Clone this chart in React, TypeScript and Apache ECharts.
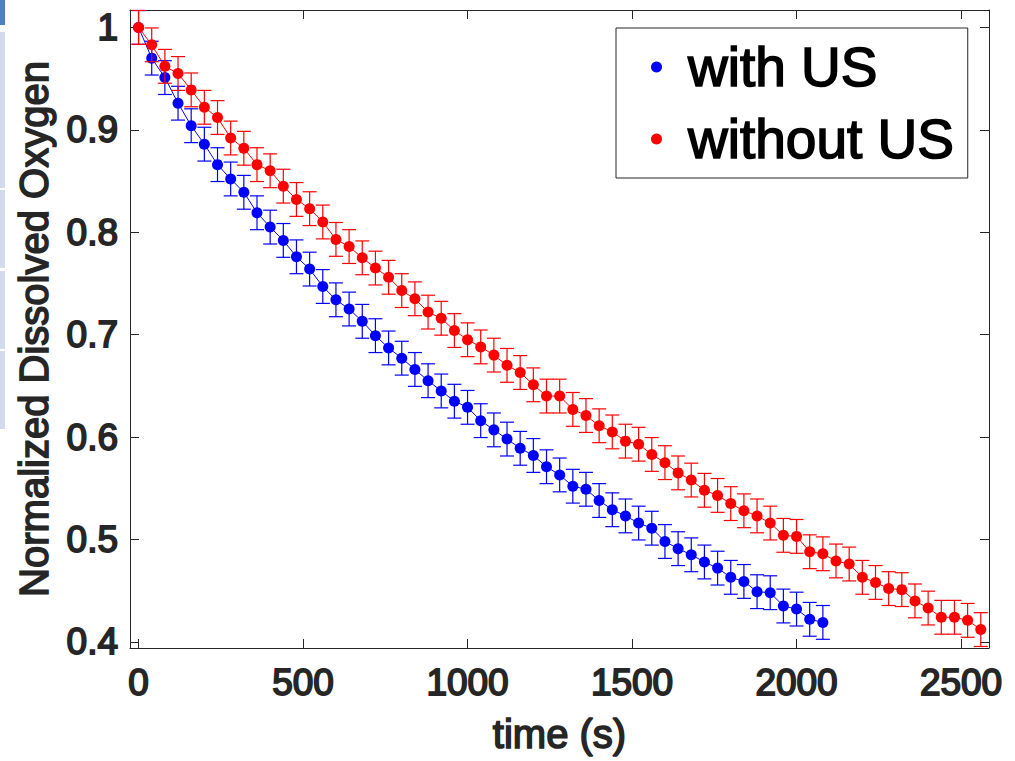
import React, { useEffect, useRef } from "react";
import * as echarts from "echarts";

// time (s), sampled every 40 s
const timeS = [
  0, 40, 80, 120, 160, 200, 240, 280, 320, 360, 400, 440, 480, 520, 560, 600,
  640, 680, 720, 760, 800, 840, 880, 920, 960, 1000, 1040, 1080, 1120, 1160, 1200,
  1240, 1280, 1320, 1360, 1400, 1440, 1480, 1520, 1560, 1600, 1640, 1680, 1720, 1760,
  1800, 1840, 1880, 1920, 1960, 2000, 2040, 2080, 2120, 2160, 2200, 2240, 2280, 2320,
  2360, 2400, 2440, 2480, 2520, 2560,
];

const withUS = [
  1.0, 0.97, 0.951, 0.926, 0.904, 0.886, 0.866, 0.852, 0.839, 0.819, 0.805, 0.792,
  0.776, 0.764, 0.747, 0.734, 0.725, 0.713, 0.699, 0.687, 0.677, 0.666, 0.655, 0.645,
  0.635, 0.629, 0.616, 0.607, 0.598, 0.589, 0.582, 0.571, 0.563, 0.552, 0.549, 0.538,
  0.529, 0.523, 0.516, 0.511, 0.498, 0.491, 0.485, 0.478, 0.472, 0.463, 0.459, 0.449,
  0.448, 0.435, 0.432, 0.422, 0.419,
];

const withoutUS = [
  1.0, 0.983, 0.962, 0.955, 0.939, 0.922, 0.912, 0.892, 0.882, 0.866, 0.86, 0.845,
  0.832, 0.823, 0.81, 0.793, 0.786, 0.775, 0.765, 0.756, 0.743, 0.735, 0.722, 0.716,
  0.704, 0.695, 0.688, 0.68, 0.67, 0.663, 0.651, 0.64, 0.64, 0.627, 0.621, 0.611,
  0.605, 0.596, 0.593, 0.583, 0.575, 0.565, 0.558, 0.548, 0.543, 0.535, 0.528, 0.523,
  0.516, 0.504, 0.503, 0.488, 0.486, 0.479, 0.476, 0.463, 0.458, 0.452, 0.451, 0.44,
  0.433, 0.424, 0.424, 0.421, 0.412,
];

const withUSErr = 0.0165;
const withoutUSErr = 0.0165;

const seriesNames = ["with US", "without US"];
const seriesColors = ["#0000ff", "#ff0000"];
const xTicks = [0, 500, 1000, 1500, 2000, 2500];
const yTicks = [0.4, 0.5, 0.6, 0.7, 0.8, 0.9, 1];

const FONT = "'Liberation Sans', Arial, Helvetica, sans-serif";
const AX = "#262626";

function errRender(color: string) {
  return (params: any, api: any) => {
    const x = api.value(0);
    const y = api.value(1);
    const e = api.value(2);
    const top = api.coord([x, y + e]);
    const bot = api.coord([x, y - e]);
    const cs = params.coordSys;
    const minY = cs.y;
    const maxY = cs.y + cs.height;
    const clamp = (v: number) => Math.max(minY, Math.min(maxY, v));
    const t = clamp(top[1]);
    const b = clamp(bot[1]);
    const cx = top[0];
    const hw = 7;
    const style = { stroke: color, lineWidth: 1.2 };
    const children: any[] = [
      { type: "line", shape: { x1: cx, y1: t, x2: cx, y2: b }, style },
    ];
    if (top[1] >= minY - 1) {
      children.push({ type: "line", shape: { x1: cx - hw, y1: t, x2: cx + hw, y2: t }, style });
    }
    if (bot[1] <= maxY + 1) {
      children.push({ type: "line", shape: { x1: cx - hw, y1: b, x2: cx + hw, y2: b }, style });
    }
    return { type: "group", children };
  };
}

export default function App() {
  const ref = useRef<HTMLDivElement>(null);

  useEffect(() => {
    if (!ref.current) return;
    const chart = echarts.init(ref.current, undefined, { renderer: "svg" });

    const blueLine = withUS.map((v, i) => [timeS[i], v]);
    const redLine = withoutUS.map((v, i) => [timeS[i], v]);
    const blueErr = withUS.map((v, i) => [timeS[i], v, withUSErr]);
    const redErr = withoutUS.map((v, i) => [timeS[i], v, withoutUSErr]);

    const xMin = -26;
    const xMax = 2585;
    const yMin = 0.394;
    const yMax = 1.017;

    const stripY = [32, 110, 190, 271, 351];

    const heavy = (color: string, w: number) => ({ textBorderColor: color, textBorderWidth: w });

    chart.setOption({
      animation: false,
      backgroundColor: "#ffffff",
      textStyle: { fontFamily: FONT },
      grid: { left: 130, top: 10, width: 859, height: 638, containLabel: false },
      legend: {
        data: seriesNames.map((n) => ({ name: n, icon: "circle" })),
        orient: "vertical",
        left: 616,
        top: 28,
        itemWidth: 11,
        itemHeight: 11,
        itemGap: 10,
        padding: [8, 13, 8, 35],
        borderColor: AX,
        borderWidth: 1,
        backgroundColor: "#ffffff",
        selectedMode: false,
        textStyle: {
          fontFamily: FONT,
          fontSize: 55,
          lineHeight: 62,
          color: "#000000",
          padding: [0, 0, 0, 21],
          ...heavy("#000000", 1.6),
        },
      },
      xAxis: [
        {
          type: "value",
          min: xMin,
          max: xMax,
          name: "time (s)",
          nameLocation: "middle",
          nameGap: 66,
          nameTextStyle: { fontFamily: FONT, fontSize: 40, color: AX, ...heavy(AX, 1.6) },
          axisLine: { show: true, onZero: false, lineStyle: { color: AX, width: 1 } },
          axisTick: {
            show: true,
            inside: true,
            length: 9,
            customValues: xTicks,
            lineStyle: { color: AX, width: 1 },
          },
          axisLabel: {
            show: true,
            customValues: xTicks,
            margin: 16,
            fontFamily: FONT,
            fontSize: 37,
            color: AX,
            ...heavy(AX, 1.8),
            formatter: (v: number) => String(Math.round(v)),
          },
          splitLine: { show: false },
        },
        {
          type: "value",
          position: "top",
          min: xMin,
          max: xMax,
          axisLine: { show: true, onZero: false, lineStyle: { color: AX, width: 1 } },
          axisTick: {
            show: true,
            inside: true,
            length: 9,
            customValues: xTicks,
            lineStyle: { color: AX, width: 1 },
          },
          axisLabel: { show: false },
          splitLine: { show: false },
        },
      ],
      yAxis: [
        {
          type: "value",
          min: yMin,
          max: yMax,
          name: "Normalized Dissolved Oxygen",
          nameLocation: "middle",
          nameRotate: 90,
          nameGap: 73,
          nameTextStyle: { fontFamily: FONT, fontSize: 40, color: AX, ...heavy(AX, 1.6) },
          axisLine: { show: true, onZero: false, lineStyle: { color: AX, width: 1 } },
          axisTick: {
            show: true,
            inside: true,
            length: 9,
            customValues: yTicks,
            lineStyle: { color: AX, width: 1 },
          },
          axisLabel: {
            show: true,
            customValues: yTicks,
            margin: 12,
            fontFamily: FONT,
            fontSize: 37,
            color: AX,
            ...heavy(AX, 1.8),
            formatter: (v: number) => (Math.abs(v - 1) < 1e-9 ? "1" : v.toFixed(1)),
          },
          splitLine: { show: false },
        },
        {
          type: "value",
          position: "right",
          min: yMin,
          max: yMax,
          axisLine: { show: true, onZero: false, lineStyle: { color: AX, width: 1 } },
          axisTick: {
            show: true,
            inside: true,
            length: 9,
            customValues: yTicks,
            lineStyle: { color: AX, width: 1 },
          },
          axisLabel: { show: false },
          splitLine: { show: false },
        },
      ],
      graphic: [
        { type: "rect", shape: { x: 0, y: 0, width: 5, height: 25 }, style: { fill: "#4f7fc0" } },
        ...stripY.map((y) => ({
          type: "rect",
          shape: { x: 0, y, width: 5, height: 78 },
          style: { fill: "#d3daeb" },
        })),
      ],
      series: [
        {
          type: "custom",
          name: "with US err",
          xAxisIndex: 0,
          yAxisIndex: 0,
          renderItem: errRender(seriesColors[0]),
          data: blueErr,
          encode: { x: 0, y: 1 },
          z: 2,
          silent: true,
        },
        {
          type: "line",
          name: seriesNames[0],
          xAxisIndex: 0,
          yAxisIndex: 0,
          data: blueLine,
          symbol: "circle",
          symbolSize: 11,
          showAllSymbol: true,
          itemStyle: { color: seriesColors[0] },
          lineStyle: { color: seriesColors[0], width: 1 },
          z: 3,
        },
        {
          type: "custom",
          name: "without US err",
          xAxisIndex: 0,
          yAxisIndex: 0,
          renderItem: errRender(seriesColors[1]),
          data: redErr,
          encode: { x: 0, y: 1 },
          z: 4,
          silent: true,
        },
        {
          type: "line",
          name: seriesNames[1],
          xAxisIndex: 0,
          yAxisIndex: 0,
          data: redLine,
          symbol: "circle",
          symbolSize: 11,
          showAllSymbol: true,
          itemStyle: { color: seriesColors[1] },
          lineStyle: { color: seriesColors[1], width: 1 },
          z: 5,
        },
      ],
    });

    return () => chart.dispose();
  }, []);

  return (
    <div
      ref={ref}
      style={{ position: "absolute", left: 0, top: 0, width: 1015, height: 761, background: "#fff" }}
    />
  );
}
